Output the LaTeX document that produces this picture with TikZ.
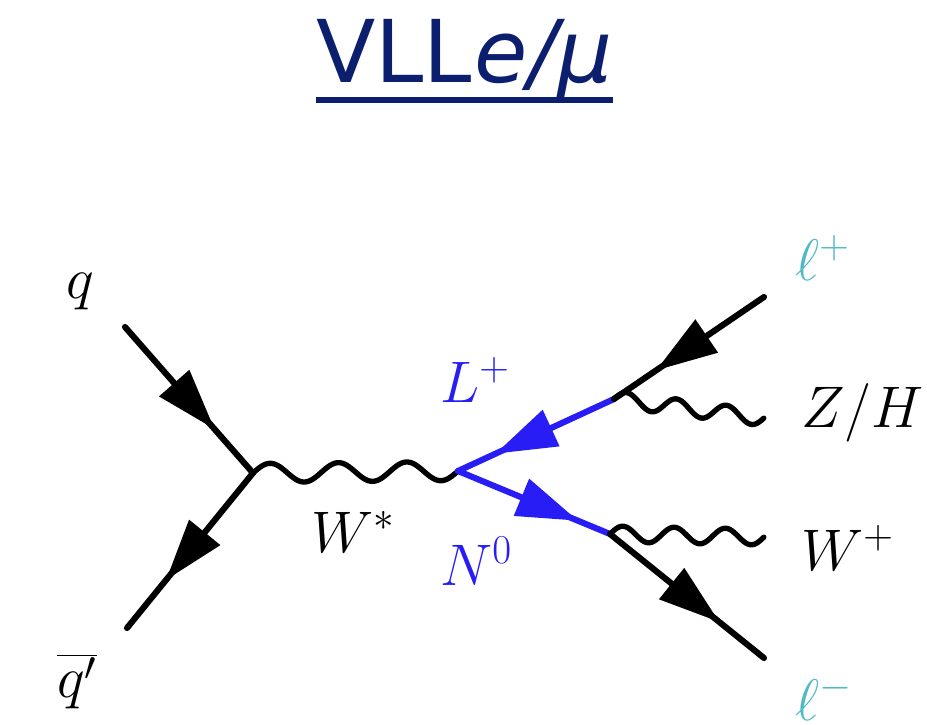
\RequirePackage{fix-cm}
\documentclass[tikz,border=0pt]{standalone}
\usepackage{fontspec}
\newfontfamily\titlefont{DejaVu Sans}
\usetikzlibrary{calc,decorations.markings,arrows.meta}
\definecolor{navy}{RGB}{12,30,110}
\definecolor{vllblue}{RGB}{40,30,245}
\definecolor{lepteal}{RGB}{80,185,195}
\begin{document}
\begin{tikzpicture}[x=0.75pt,y=-0.75pt,
  fermion/.style={line width=4.6pt, line cap=round, postaction={decorate},
    decoration={markings, mark=at position #1 with {\arrow{Triangle[length=46pt,width=29pt]}}}},
  fermion/.default=0.7,
  boson/.style={line width=4pt, line cap=round, line join=round},
  lbl/.style={anchor=base west, inner sep=0pt, font=\fontsize{44}{50}\selectfont}
]
\useasboundingbox (0,0) rectangle (927,724);

% title
\node[anchor=base west, inner sep=0pt, text=navy] (title) at (316,83)
  {\titlefont\fontsize{65}{70}\selectfont VLL\hspace{2pt}\textit{e/μ}};
\draw[navy, line width=4.5pt] ([yshift=-12.75pt]title.base west) -- ([yshift=-12.75pt]title.base east);

% vertices and ends
\coordinate (v1) at (253,473);
\coordinate (v2) at (458,471);
\coordinate (v3) at (614,399);
\coordinate (v4) at (610,534);
\coordinate (qin) at (125,327);
\coordinate (qbar) at (127,628);
\coordinate (lp) at (764,297);
\coordinate (zh) at (764,418);
\coordinate (wp) at (764,537);
\coordinate (lm) at (764,658);

% lines
\draw[fermion=0.70] (qin) -- (v1);
\draw[fermion=0.69] (v1) -- (qbar);
\draw[boson] plot[domain=0:1, samples=150, variable=\t, smooth]({$(v1)!\t!(v2)+(0,{-9.5*sin(1080*\t)})$});
\draw[fermion=0.76, vllblue] (v3) -- (v2);
\draw[fermion=0.79, vllblue] (v2) -- (v4);
\draw[fermion=0.72] (lp) -- (v3);
\draw[boson] plot[domain=0:1, samples=120, variable=\t, smooth]({$(v3)!\t!(zh)+(0,{-8*sin(1080*\t)})$});
\draw[boson] plot[domain=0:1, samples=120, variable=\t, smooth]({$(v4)!\t!(wp)+(0,{-8*sin(1080*\t)})$});
\draw[fermion=0.71] (v4) -- (lm);

% labels
\node[lbl] (lq) at (66,298) {$q$};
\node[lbl] (lqb) at (57,697) {$\overline{q'}$};
\node[lbl] (lw) at (311,552) {$W^*$};
\node[lbl, text=vllblue] (lL) at (440,402) {$L^+$};
\node[lbl, text=vllblue] (lN) at (440,585) {$N^0$};
\node[lbl, text=lepteal] (llp) at (795,280) {$\ell^+$};
\node[lbl] (lzh) at (801,427) {$Z/H$};
\node[lbl] (lwp) at (801,570) {$W^+$};
\node[lbl, text=lepteal] (llm) at (795,720) {$\ell^-$};
\end{tikzpicture}
\end{document}
